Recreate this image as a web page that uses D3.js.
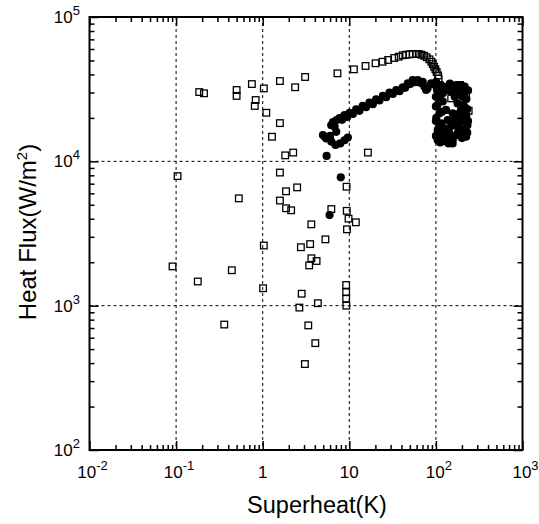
<!DOCTYPE html>
<html>
<head>
<meta charset="utf-8">
<script src="https://cdn.jsdelivr.net/npm/d3@7"></script>
<style>
  body { margin: 0; background: #fff; }
  text { font-family: "Liberation Sans", Arial, sans-serif; fill: #000; }
</style>
</head>
<body>
<div id="chart"></div>
<script>
// decades shown on each axis
let xDecades = [0.01, 0.1, 1, 10, 100, 1000];
let yDecades = [100, 1000, 10000, 100000];
let xLabels = ["10|-2", "10|-1", "1", "10", "10|2", "10|3"];
let yLabels = ["10|2", "10|3", "10|4", "10|5"];

// open squares [superheat K, heat flux W/m2]
let openSquares = [
    [0.091, 1870], [0.104, 7900], [0.178, 1470], [0.185, 30200], [0.21, 29600],
    [0.36, 740], [0.44, 1760], [0.50, 31200], [0.50, 28400], [0.53, 5540],
    [0.75, 34300], [1.03, 32000], [0.83, 26600], [0.81, 24200], [1.10, 21700],
    [1.58, 36000], [2.37, 32600], [3.09, 38400], [7.3, 40700], [1.58, 18400],
    [1.28, 14800], [1.82, 11000], [2.25, 11500], [1.58, 8360], [2.50, 6600],
    [1.86, 6200], [1.58, 5350], [1.86, 4730], [2.13, 4580], [6.2, 4670],
    [9.3, 6670], [9.35, 4540], [9.8, 4010], [11.9, 3780], [9.4, 3380],
    [3.64, 3660], [1.03, 2610], [2.76, 2540], [3.53, 2670], [5.3, 2880],
    [3.65, 2130], [4.19, 2040], [3.44, 1900], [1.01, 1320], [2.82, 1210],
    [9.2, 1390], [9.2, 1240], [9.2, 1120], [9.25, 1000], [2.65, 970],
    [4.34, 1040], [3.36, 730], [4.05, 550], [3.07, 394], [16.4, 11500],
    [11.3, 43400], [15.4, 45800], [20.1, 47800], [24.2, 49000], [28.1, 50400],
    [33.0, 52000], [37.2, 53100], [41.4, 54300], [45.3, 54800], [49.5, 55100],
    [54.0, 55400], [59.2, 55400], [63.3, 55400], [68.1, 54800], [73.1, 53900],
    [78.3, 52600], [84.1, 50900], [88.7, 49000], [91.9, 47200], [95.3, 45200],
    [98.7, 43400], [102, 41600], [106, 39400], [107.6, 37400],
    [131, 32000], [168, 33200], [190, 33800], [223, 29600], [239, 22400], [150, 27300]
];

// filled circles [superheat K, heat flux W/m2]
let filledCircles = [
    [5.47, 10900], [7.97, 7750], [5.92, 4240],
    [4.96, 15200], [5.42, 14400], [6.19, 13700], [6.94, 13000], [7.86, 13300],
    [8.81, 14000], [9.62, 14600],
    [6.19, 17800], [6.76, 17400], [7.07, 16000], [6.49, 18700], [7.13, 19300],
    [7.72, 19900], [8.81, 20900], [10.1, 21700], [12.0, 22900], [14.3, 24200],
    [17.1, 25500], [20.4, 26900], [24.4, 28400], [29.1, 29900], [34.8, 31200],
    [41.4, 32600], [47.3, 34700], [54.0, 36600], [61.7, 36600], [70.4, 35600],
    [77.1, 31200], [88.0, 34700], [100.5, 35600], [115, 33800], [137, 32900],
    [171, 33800], [195, 33800], [223, 31200],
    [8.25, 19400], [9.45, 20300], [11.0, 21300], [13.1, 22400], [15.6, 23700],
    [18.7, 24900], [22.3, 26400], [26.6, 27800], [31.8, 29300], [38.0, 30600],
    [44.2, 32300], [50.5, 34300], [57.7, 35300], [66, 35000], [73.5, 33000],
    [80, 32000], [94, 34000], [6.0, 15000], [5.2, 14800],
    [110, 26600], [110, 21500], [110, 17400], [110, 15600], [120, 14800],
    [156, 14000], [156, 13300], [143, 15600], [178, 17400], [204, 16500],
    [223, 14800], [213, 19300], [213, 23900], [204, 28000], [178, 25200],
    [156, 21500], [137, 19300], [131, 22700], [120, 29600], [187, 31200],
    [150, 30400], [105, 16500], [115, 18300], [187, 21500], [195, 22700],
    [103, 31200], [104, 24500], [125, 17000], [162, 19300], [231, 17800], [101, 20000],
    [100, 28000], [100, 24000], [100, 19000], [100, 15000], [105, 14000], [112, 13500],
    [125, 13800], [140, 13300], [112, 14200], [135, 14500], [165, 15000], [180, 15800],
    [200, 14500], [215, 15500], [230, 15800], [235, 19000], [230, 23000], [225, 27000],
    [235, 31000], [215, 33000], [180, 29000], [165, 28000], [117, 22000], [150, 17500],
    [170, 20000], [190, 18500], [200, 24500], [135, 16000], [120, 26000], [225, 21000],
    [107, 29000], [128, 31000], [145, 34500], [160, 32000], [210, 29000], [208, 20500]
];

let width = 539, height = 524;
let mLeft = 89.5, mRight = 522.5, mTop = 17, mBottom = 450;

let svg = d3.select("#chart")
    .append("svg")
    .attr("width", width)
    .attr("height", height);

let x = d3.scaleLog().domain([0.01, 1000]).range([mLeft, mRight]);
let y = d3.scaleLog().domain([100, 100000]).range([mBottom, mTop]);

// grid lines at inner decades
svg.append("g")
    .selectAll("line")
    .data(xDecades.slice(1, -1))
    .join("line")
    .attr("x1", d => x(d)).attr("x2", d => x(d))
    .attr("y1", mTop).attr("y2", mBottom)
    .attr("stroke", "#000").attr("stroke-width", 1)
    .attr("stroke-dasharray", "3,3");

svg.append("g")
    .selectAll("line")
    .data(yDecades.slice(1, -1))
    .join("line")
    .attr("y1", d => y(d)).attr("y2", d => y(d))
    .attr("x1", mLeft).attr("x2", mRight)
    .attr("stroke", "#000").attr("stroke-width", 1)
    .attr("stroke-dasharray", "3,3");

// ticks on all four sides, pointing inward
let xMinor = x.ticks().filter(d => !xDecades.some(v => Math.abs(v - d) / v < 1e-6));
let yMinor = y.ticks().filter(d => !yDecades.some(v => Math.abs(v - d) / v < 1e-6));

function drawAxis(axisFn, scale, pos, values, size) {
    let g = svg.append("g")
        .attr("transform", pos)
        .call(axisFn(scale).tickValues(values).tickSize(size).tickFormat(""));
    g.select(".domain").remove();
    g.selectAll("line").attr("stroke", "#000").attr("stroke-width", 1.5);
}

drawAxis(d3.axisBottom, x, `translate(0,${mBottom})`, xDecades, -9);
drawAxis(d3.axisBottom, x, `translate(0,${mBottom})`, xMinor, -5);
drawAxis(d3.axisTop, x, `translate(0,${mTop})`, xDecades, -9);
drawAxis(d3.axisTop, x, `translate(0,${mTop})`, xMinor, -5);
drawAxis(d3.axisLeft, y, `translate(${mLeft},0)`, yDecades, -9);
drawAxis(d3.axisLeft, y, `translate(${mLeft},0)`, yMinor, -5);
drawAxis(d3.axisRight, y, `translate(${mRight},0)`, yDecades, -9);
drawAxis(d3.axisRight, y, `translate(${mRight},0)`, yMinor, -5);

// frame
svg.append("rect")
    .attr("x", mLeft).attr("y", mTop)
    .attr("width", mRight - mLeft).attr("height", mBottom - mTop)
    .attr("fill", "none").attr("stroke", "#000").attr("stroke-width", 2);

// tick labels with superscript exponents
function powLabel(sel, label) {
    let parts = label.split("|");
    sel.append("tspan").text(parts[0]);
    if (parts.length > 1) {
        sel.append("tspan").attr("dy", -8).attr("font-size", 13).text(parts[1]);
    }
}

svg.append("g")
    .selectAll("text")
    .data(xDecades)
    .join("text")
    .attr("x", (d, i) => x(d) + (xLabels[i].includes("|") ? 3 : 0))
    .attr("y", 478)
    .attr("text-anchor", "middle")
    .attr("font-size", 17)
    .each(function (d, i) { powLabel(d3.select(this), xLabels[i]); });

svg.append("g")
    .selectAll("text")
    .data(yDecades)
    .join("text")
    .attr("x", 80)
    .attr("y", d => y(d) + 6)
    .attr("text-anchor", "end")
    .attr("font-size", 17)
    .each(function (d, i) { powLabel(d3.select(this), yLabels[i]); });

// axis titles
svg.append("text")
    .attr("x", 317).attr("y", 513)
    .attr("text-anchor", "middle")
    .attr("font-size", 23.5)
    .text("Superheat(K)");

let yt = svg.append("text")
    .attr("transform", "translate(36,232) rotate(-90)")
    .attr("text-anchor", "middle")
    .attr("font-size", 24);
yt.append("tspan").text("Heat Flux(W/m");
yt.append("tspan").attr("dy", -9).attr("font-size", 15).text("2");
yt.append("tspan").attr("dy", 9).text(")");

// markers
svg.append("g")
    .selectAll("rect")
    .data(openSquares)
    .join("rect")
    .attr("x", d => x(d[0]) - 3.3)
    .attr("y", d => y(d[1]) - 3.3)
    .attr("width", 6.6).attr("height", 6.6)
    .attr("fill", "none").attr("stroke", "#000").attr("stroke-width", 1.3);

svg.append("g")
    .selectAll("circle")
    .data(filledCircles)
    .join("circle")
    .attr("cx", d => x(d[0]))
    .attr("cy", d => y(d[1]))
    .attr("r", 4.1)
    .attr("fill", "#000");
</script>
</body>
</html>
